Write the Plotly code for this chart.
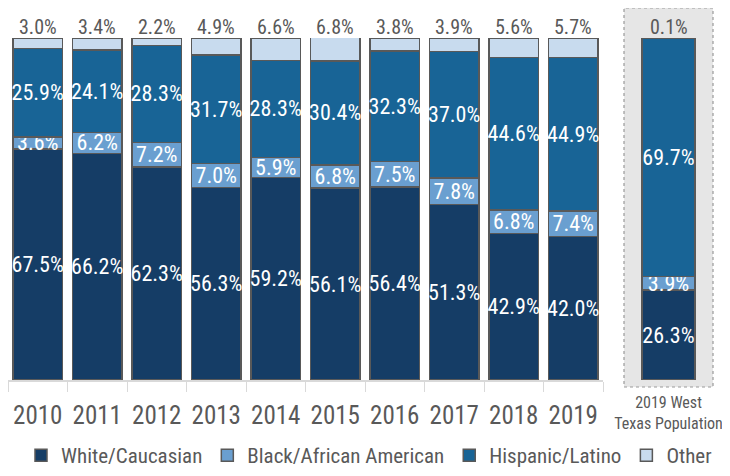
import plotly.graph_objects as go

# dados
anos = ['2010', '2011', '2012', '2013', '2014', '2015', '2016', '2017', '2018', '2019']
branco = [67.5, 66.2, 62.3, 56.3, 59.2, 56.1, 56.4, 51.3, 42.9, 42.0]
negro = [3.6, 6.2, 7.2, 7.0, 5.9, 6.8, 7.5, 7.8, 6.8, 7.4]
hispanico = [25.9, 24.1, 28.3, 31.7, 28.3, 30.4, 32.3, 37.0, 44.6, 44.9]
outros = [3.0, 3.4, 2.2, 4.9, 6.6, 6.8, 3.8, 3.9, 5.6, 5.7]

regiao = ['2019 West<br>Texas Population']
regiao_branco = [26.3]
regiao_negro = [3.9]
regiao_hispanico = [69.7]
regiao_outros = [0.1]

nomes = ['White/Caucasian', 'Black/African American', 'Hispanic/Latino', 'Other']
cores = ['#153d66', '#6a9fd0', '#186496', '#c8dbee']
fonte = 'Roboto Condensed, Liberation Sans Narrow, Roboto, sans-serif'
cinza = '#595959'

# a pagina tem margem de 8px no body, entao a figura fica deslocada
W, H, OFF = 722, 468, 8
def px_x(p):
    return (p - OFF) / W
def px_y(p):
    return 1 - (p - OFF) / H

fig = go.Figure()

series_main = [branco, negro, hispanico, outros]
series_reg = [regiao_branco, regiao_negro, regiao_hispanico, regiao_outros]

for i in range(4):
    txt = [f'{v:.1f}%' for v in series_main[i]] if i < 3 else None
    fig.add_trace(go.Bar(x=anos, y=series_main[i], name=nomes[i],
                         marker=dict(color=cores[i], line=dict(color=cinza, width=1.5)),
                         text=txt, textposition='inside', insidetextanchor='middle', textangle=0,
                         textfont=dict(color='white', size=22, family=fonte),
                         width=0.84, xaxis='x', yaxis='y', hoverinfo='skip'))
for i in range(4):
    txt = [f'{v:.1f}%' for v in series_reg[i]] if i < 3 else None
    fig.add_trace(go.Bar(x=regiao, y=series_reg[i], name=nomes[i], showlegend=False,
                         marker=dict(color=cores[i], line=dict(color=cinza, width=1.5)),
                         text=txt, textposition='inside', insidetextanchor='middle', textangle=0,
                         textfont=dict(color='white', size=22, family=fonte),
                         width=0.6, xaxis='x2', yaxis='y2', hoverinfo='skip'))

# rotulos de "Other" em cima (posicao pelo indice da categoria)
for i, o in enumerate(outros):
    fig.add_annotation(x=i, y=100, xref='x', yref='y', text=f'{o:.1f}%', showarrow=False,
                       yanchor='bottom', yshift=-3, font=dict(size=20, color=cinza, family=fonte))
for i, o in enumerate(regiao_outros):
    fig.add_annotation(x=i, y=100, xref='x2', yref='y2', text=f'{o:.1f}%', showarrow=False,
                       yanchor='bottom', yshift=-3, font=dict(size=20, color=cinza, family=fonte))

# caixa cinza
fig.add_shape(type='rect', xref='paper', yref='paper',
              x0=px_x(624), x1=px_x(713), y0=px_y(387), y1=px_y(8),
              fillcolor='#e6e6e6', line=dict(color='#9a9a9a', width=1.2, dash='dot'),
              layer='below')

ydom = [px_y(380), px_y(38)]
fig.update_layout(
    width=W, height=H,
    margin=dict(l=0, r=0, t=0, b=0, autoexpand=False),
    barmode='stack',
    paper_bgcolor='white', plot_bgcolor='rgba(0,0,0,0)',
    font=dict(family=fonte, color=cinza),
    uniformtext=dict(minsize=22, mode='show'),
    xaxis=dict(domain=[px_x(8), px_x(603)], type='category', range=[-0.5, 9.5], showline=True,
               linecolor='#d9d9d9', linewidth=2, ticks='outside', tickson='boundaries', ticklen=10,
               tickcolor='#d9d9d9', tickfont=dict(size=25, color=cinza, family=fonte),
               ticklabelstandoff=12, showgrid=False, automargin=False),
    yaxis=dict(domain=ydom, range=[0, 100], visible=False),
    xaxis2=dict(domain=[px_x(624), px_x(713)], type='category', range=[-0.5, 0.5], showline=False,
                ticks='', tickfont=dict(size=16, color=cinza, family=fonte), showgrid=False,
                anchor='y2', ticklabelstandoff=11, automargin=False),
    yaxis2=dict(domain=ydom, range=[0, 100], visible=False, anchor='x2'),
    legend=dict(orientation='h', x=px_x(369), xanchor='center', y=0, yanchor='bottom',
                font=dict(size=21, color=cinza, family=fonte), traceorder='normal'),
)

fig.write_html('out.html')
